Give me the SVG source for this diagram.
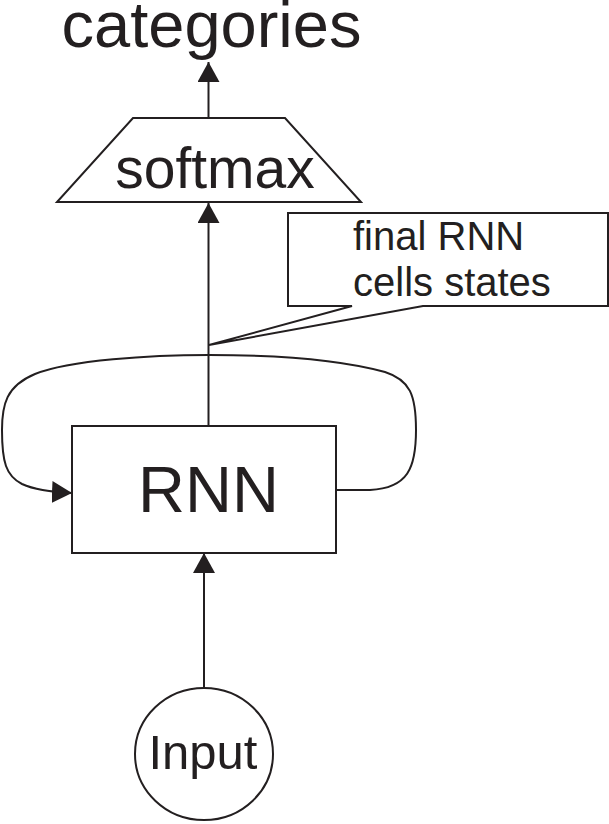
<svg xmlns="http://www.w3.org/2000/svg" width="609" height="824" viewBox="0 0 609 824">
<style>
.s{fill:none;stroke:#231f20;stroke-width:2}
.n{fill:#fff;stroke:#231f20;stroke-width:2}
.t{font-family:"Liberation Sans",Arial,sans-serif;fill:#231f20}
</style>
<defs>
<marker id="ah" markerWidth="20" markerHeight="22" refX="20" refY="11" orient="auto" markerUnits="userSpaceOnUse">
<path d="M0,0 L20,11 L0,22 Z" fill="#231f20"/>
</marker>
</defs>
<rect width="609" height="824" fill="#fff"/>
<g id="connectors">
<line class="s" x1="208.5" y1="118" x2="208.5" y2="62" marker-end="url(#ah)"/>
<line class="s" x1="208.5" y1="426" x2="208.5" y2="203" marker-end="url(#ah)"/>
<line class="s" x1="204" y1="687" x2="204" y2="553" marker-end="url(#ah)"/>
<path class="s" d="M336,490 L370,490 C408,488 416,468 416,430 C416,395 410,380 385,372 C330,357 260,355 209,355 C150,355 70,360 35,374 C6,386 2,405 2,430 C2,462 6,476 22,484 C35,490 50,492 72,493" marker-end="url(#ah)"/>
</g>
<g id="categories">
<text class="t" x="211.5" y="47" font-size="65" text-anchor="middle">categories</text>
</g>
<g id="softmax">
<polygon class="n" points="133,118 285,118 361,202 57,202"/>
<text class="t" x="215" y="188" font-size="57" text-anchor="middle">softmax</text>
</g>
<g id="callout">
<path class="n" d="M288,213 H608 V306 H423 L209,345 L352,306 H288 Z"/>
<text class="t" x="353" y="250" font-size="40">final RNN</text>
<text class="t" x="353" y="296" font-size="40">cells states</text>
</g>
<g id="rnn">
<rect class="n" x="72" y="426" width="264" height="127"/>
<text class="t" x="208.5" y="512" font-size="65" text-anchor="middle">RNN</text>
</g>
<g id="input">
<ellipse class="n" cx="204" cy="754" rx="69" ry="66"/>
<text class="t" x="203" y="769" font-size="49" text-anchor="middle">Input</text>
</g>
</svg>
